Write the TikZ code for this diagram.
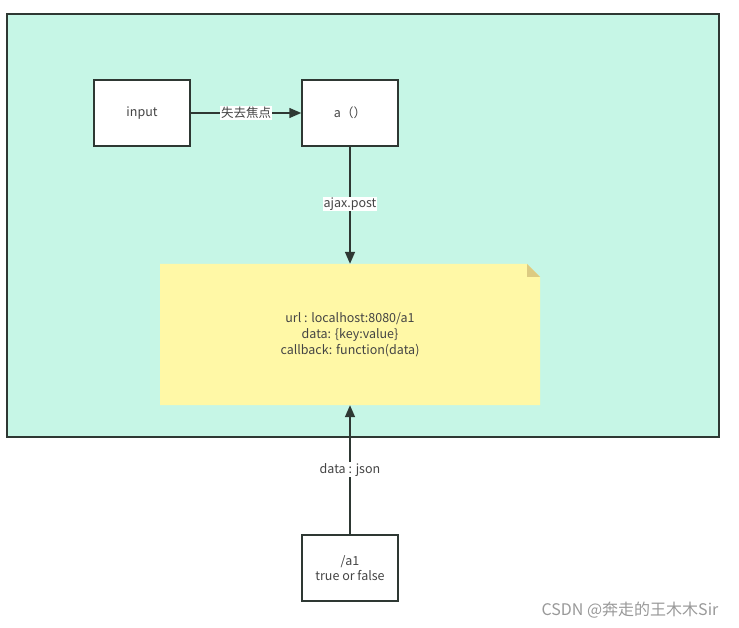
\documentclass[tikz,border=0pt]{standalone}
\usepackage{fontspec}
\setmainfont{Noto Sans CJK SC}
\usetikzlibrary{arrows.meta}
\definecolor{mint}{HTML}{C6F6E6}
\definecolor{note}{HTML}{FFF8A6}
\definecolor{fold}{HTML}{DCCB82}
\definecolor{ln}{HTML}{2E3833}
\definecolor{tx}{HTML}{444444}
\begin{document}
\begin{tikzpicture}[x=1pt,y=-1pt,
  box/.style={draw=ln,line width=1.5pt,fill=white,minimum width=96pt,minimum height=66pt,inner sep=0pt,text=tx,font=\fontsize{12.5}{15.5}\selectfont,align=center},
  conn/.style={draw=ln,line width=1.5pt,-{Triangle[length=12pt,width=10pt]}},
  lbl/.style={fill=white,inner sep=1pt,text=tx,font=\fontsize{12.5}{14}\selectfont}]
\useasboundingbox (0,0) rectangle (739,628);
\fill[white] (0,0) rectangle (739,628);
\node[draw=ln,line width=1.5pt,fill=mint,minimum width=712pt,minimum height=423pt,inner sep=0pt] (outer) at (363,225.5) {};
\node[box] (input) at (142,113) {input};
\node[box] (a) at (350,113) {a（）};
\fill[note] (160,264) -- (527,264) -- (540,277) -- (540,405) -- (160,405) -- cycle;
\fill[fold] (527,264) -- (540,277) -- (527,277) -- cycle;
\node[minimum width=380pt,minimum height=141pt,inner sep=0pt,text=tx,font=\fontsize{12.5}{16}\selectfont,align=center] (note) at (350,334.5) {url : localhost:8080/a1\\data: \{key:value\}\\callback: function(data)};
\node[box] (a1) at (350,568) {/a1\\true or false};
\draw[conn] (input) -- node[lbl] {失去焦点} (a);
\draw[conn] (a) -- node[lbl,pos=0.49] {ajax.post} (note);
\draw[conn] (a1) -- node[lbl,pos=0.5] {data : json} (note);
\node[text=gray!80,font=\fontsize{16}{18}\selectfont] (wm) at (630,610) {CSDN @奔走的王木木Sir};
\end{tikzpicture}
\end{document}
